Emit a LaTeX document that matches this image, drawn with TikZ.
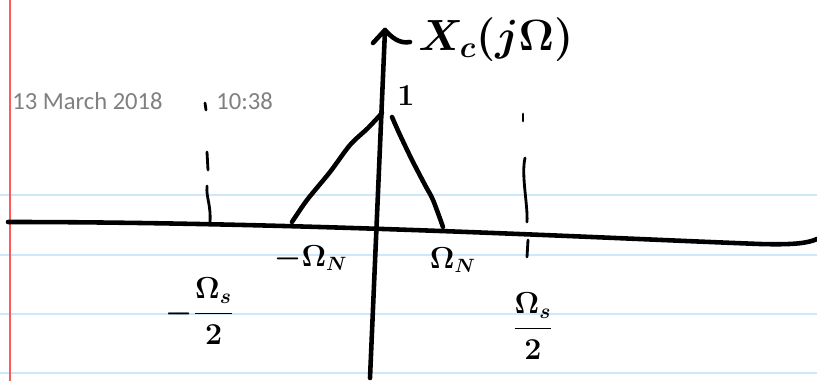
\documentclass[tikz,border=0pt]{standalone}
\usepackage{amsmath}
\usepackage{fontspec}
\newfontfamily\notefont{Carlito}
\usetikzlibrary{calc}
\definecolor{ruleblue}{RGB}{204,232,250}
\definecolor{marginred}{RGB}{255,90,90}
\definecolor{stampgrey}{RGB}{128,128,128}

\begin{document}
\begin{tikzpicture}[
    x=0.02cm, y=-0.02cm,
    ink/.style={line width=2.6pt, line cap=round, line join=round},
    thinink/.style={line width=1.6pt, line cap=round},
    rule/.style={draw=ruleblue, line width=1.2pt},
    stamp/.style={font=\notefont\fontsize{14}{16}\selectfont, text=stampgrey, anchor=base west, inner sep=0pt},
    lbl/.style={font=\fontsize{16}{19}\selectfont\boldmath, inner sep=0pt},
    fraclbl/.style={font=\fontsize{18}{21}\selectfont\boldmath, inner sep=0pt},
]
\useasboundingbox (0,0) rectangle (817,381);

% Ruled page
\foreach \y in {195,255,314,373}
    \draw[rule] (0,\y) -- (817,\y);
\draw[draw=marginred, line width=1.2pt] (10,0) -- (10,381);

% Stamp
\node[stamp] (date) at (12,110) {13 March 2018};
\node[stamp] (time) at (216,110) {10:38};

% Axes
\coordinate (xleft) at (8,222);
\coordinate (xright) at (817,239);
\coordinate (ybottom) at (370,378);
\coordinate (ytop) at (385,30);
\draw[ink] (xleft) .. controls (300,222) and (600,238) .. (760,244)
    .. controls (795,245) and (808,243) .. (xright);
\draw[ink] (ybottom) -- (ytop);
\draw[ink] (373,43) -- (ytop) .. controls (392,38) and (400,44) .. (410,42);

% Spectrum
\coordinate (peak) at (382,113);
\draw[ink] plot[smooth] coordinates {(292,222) (307,200) (330,172) (350,145) (368,128) (peak)};
\draw[ink] plot[smooth] coordinates {(392,117) (400,135) (412,160) (425,185) (433,200) (443,227)};
\node[lbl] (one) at (406,96) {$1$};

% Fold lines
\draw[thinink] (205,103) -- (206,110);
\draw[thinink] (207,152) -- (208,170);
\draw[thinink] (207,186) .. controls (206,198) and (211,204) .. (210,222);
\draw[thinink] (523,114) -- (523,121);
\draw[thinink] (525,158) .. controls (521,175) and (528,205) .. (527,222);
\draw[thinink] (528,240) -- (527,257);

% Labels
\node[lbl, anchor=west] (title) at (418,40) {\fontsize{26}{30}\selectfont$X_c(j\Omega)$};
\node[lbl] (mwn) at (311,258) {$-\Omega_N$};
\node[lbl] (wn) at (453,260) {$\Omega_N$};
\node[fraclbl] (mws) at (200,311) {$-\dfrac{\Omega_s}{2}$};
\node[fraclbl] (ws) at (533,326) {$\dfrac{\Omega_s}{2}$};
\end{tikzpicture}
\end{document}
